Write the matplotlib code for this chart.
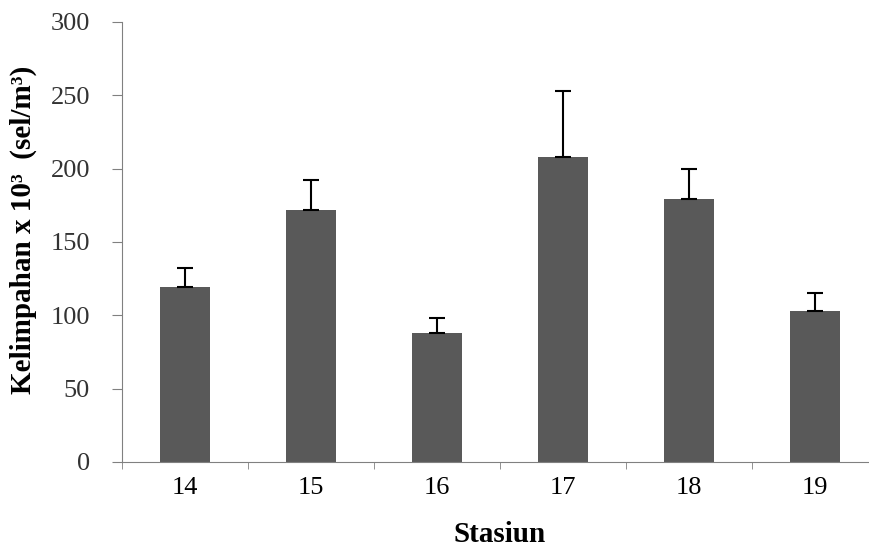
import matplotlib.pyplot as plt
import numpy as np

# Data
stasiun = ["14", "15", "16", "17", "18", "19"]
kelimpahan = [119, 172, 88, 208, 179, 103]
err_atas = [13, 20, 10, 45, 21, 12]

plt.rcParams['font.family'] = ['Liberation Serif', 'DejaVu Serif']

fig = plt.figure(figsize=(8.69, 5.6), dpi=100)
ax = fig.add_axes([122 / 869, (560 - 462) / 560, 756 / 869, 440 / 560])

x = np.arange(len(stasiun))
ax.bar(x, kelimpahan, width=0.4, color="#595959", zorder=2)
ax.errorbar(x, kelimpahan, yerr=[np.zeros(len(x)), err_atas], fmt="none",
            ecolor="black", elinewidth=1.5, capsize=6, capthick=1.5, zorder=3)

ax.set_xlim(-0.5, 5.5)
ax.set_ylim(0, 300)
ax.set_yticks(range(0, 301, 50))
ax.set_xticks(x)
ax.set_xticklabels(stasiun)
ax.set_xticks(np.arange(-0.5, 6, 1), minor=True)

for s in ["top", "right"]:
    ax.spines[s].set_visible(False)
for s in ["left", "bottom"]:
    ax.spines[s].set_color("#808080")

ax.tick_params(axis="y", direction="out", length=7, color="#808080",
               labelsize=19, labelcolor="#333333", pad=16)
ax.tick_params(axis="x", which="major", length=0, labelsize=19, pad=11)
ax.tick_params(axis="x", which="minor", direction="out", length=5, color="#808080")

ax.set_ylabel("Kelimpahan x 10³  (sel/m³)", fontsize=21, fontweight="bold")
ax.yaxis.set_label_coords(-0.112, 0.527)
ax.set_xlabel("Stasiun", fontsize=21, fontweight="bold")
ax.xaxis.set_label_coords(0.5, -0.135)

fig.savefig("out.png", dpi=100)
